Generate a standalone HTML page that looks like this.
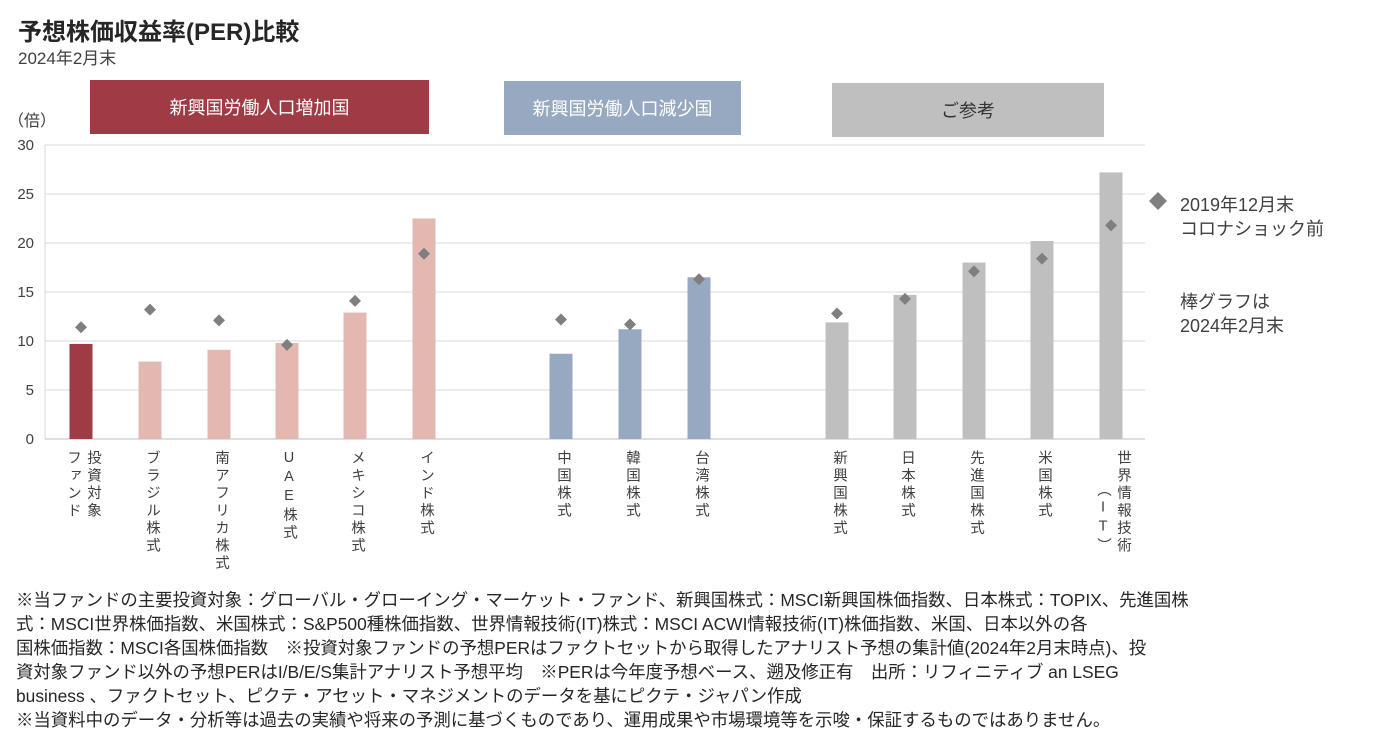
<!DOCTYPE html>
<html><head><meta charset="utf-8"><style>
body{margin:0;width:1375px;height:742px;background:#fff;font-family:"Liberation Sans","Noto Sans CJK JP",sans-serif;color:#404040;position:relative;overflow:hidden}
.a{position:absolute;white-space:nowrap}
.hdr{position:absolute;color:#fff;font-size:18px;display:flex;align-items:center;justify-content:center}
.fn{position:absolute;left:16px;font-size:17.4px;color:#262626;white-space:nowrap}
.vl{position:absolute;writing-mode:vertical-rl;text-orientation:upright;font-size:14.5px;line-height:20px;letter-spacing:3px;color:#404040}
</style></head><body>
<div class="a" style="left:18px;top:12px;font-size:24px;font-weight:bold;color:#262626">予想株価収益率(PER)比較</div>
<div class="a" style="left:18px;top:44px;font-size:17px">2024年2月末</div>
<div class="hdr" style="left:90px;top:80px;width:339px;height:54px;background:#9e3b45">新興国労働人口増加国</div>
<div class="hdr" style="left:504px;top:81px;width:237px;height:54px;background:#97a9c0">新興国労働人口減少国</div>
<div class="hdr" style="left:832px;top:83px;width:272px;height:54px;background:#bfbfbf;color:#333">ご参考</div>
<div class="a" style="left:8px;top:107px;font-size:16px">（倍）</div>
<svg id="chart" width="1375" height="742" style="position:absolute;left:0;top:0"></svg>
<div class="a" style="left:1180px;top:193px;font-size:18px;line-height:24px">2019年12月末<br>コロナショック前</div>
<div class="a" style="left:1180px;top:290px;font-size:18px;line-height:24px">棒グラフは<br>2024年2月末</div>
<div id="labels"></div>
<div class="fn" style="top:587px">※当ファンドの主要投資対象：グローバル・グローイング・マーケット・ファンド、新興国株式：MSCI新興国株価指数、日本株式：TOPIX、先進国株</div>
<div class="fn" style="top:611px">式：MSCI世界株価指数、米国株式：S&amp;P500種株価指数、世界情報技術(IT)株式：MSCI  ACWI情報技術(IT)株価指数、米国、日本以外の各</div>
<div class="fn" style="top:635px">国株価指数：MSCI各国株価指数　※投資対象ファンドの予想PERはファクトセットから取得したアナリスト予想の集計値(2024年2月末時点)、投</div>
<div class="fn" style="top:659px">資対象ファンド以外の予想PERはI/B/E/S集計アナリスト予想平均　※PERは今年度予想ベース、遡及修正有　出所：リフィニティブ an LSEG</div>
<div class="fn" style="top:683px">business 、ファクトセット、ピクテ・アセット・マネジメントのデータを基にピクテ・ジャパン作成</div>
<div class="fn" style="top:707px">※当資料中のデータ・分析等は過去の実績や将来の予測に基づくものであり、運用成果や市場環境等を示唆・保証するものではありません。</div>
<script>
const categories=["投資対象|ファンド","ブラジル株式","南アフリカ株式","UAE株式","メキシコ株式","インド株式","中国株式","韓国株式","台湾株式","新興国株式","日本株式","先進国株式","米国株式","世界情報技術|（IT）"];
const perFeb2024=[9.7,7.9,9.1,9.8,12.9,22.5,8.7,11.2,16.5,11.9,14.7,18.0,20.2,27.2];
const perDec2019=[11.4,13.2,12.1,9.6,14.1,18.9,12.2,11.7,16.3,12.8,14.3,17.1,18.4,21.8];
const groups=[0,1,1,1,1,1,2,2,2,3,3,3,3,3];
const yTicks=[0,5,10,15,20,25,30];
const colors=["#9e3b45","#e2b8b0","#97a9c0","#bfbfbf"];
const centers=[81,150,219,287,355,424,561,630,699,837,905,974,1042,1111];
const svg=document.getElementById('chart');const NS="http://www.w3.org/2000/svg";
const y=v=>439-v*(294/30);
function mk(t,a){const e=document.createElementNS(NS,t);for(const k in a)e.setAttribute(k,a[k]);svg.appendChild(e);return e;}
yTicks.forEach(t=>{
 const l=mk('line',{x1:45,x2:1145,y1:y(t),y2:y(t),stroke:t===0?'#bfbfbf':'#d9d9d9','stroke-width':1});
 
 
 const tx=mk('text',{x:34,y:y(t)+5,'text-anchor':'end','font-size':15,fill:'#404040','font-family':'Liberation Sans, sans-serif'});
 tx.textContent=t;
 
 
});
mk('line',{x1:45,x2:45,y1:145,y2:439,stroke:'#d9d9d9'});
const lab=document.getElementById('labels');
categories.forEach((c,i)=>{
 const cx=centers[i];
 const r=mk('rect',{x:cx-11.5,y:y(perFeb2024[i]),width:23,height:439-y(perFeb2024[i]),fill:colors[groups[i]]});
 
 
 const d=y(perDec2019[i]);
 const p=mk('polygon',{points:`${cx},${d-6} ${cx+6},${d} ${cx},${d+6} ${cx-6},${d}`,fill:'#7f7f7f'});
 
 
 const parts=c.split('|');
 parts.forEach((s,j)=>{
  const dv=document.createElement('div');dv.className='vl';
  const off=parts.length>1?(j===0?2:-18):-8;
  dv.style.left=(cx+off)+'px';dv.style.top=(j===1&&i===13?482:450)+'px';
  dv.textContent=s;
  
  
  lab.appendChild(dv);
 });
});
const ld=mk('polygon',{points:'1158,192 1167,201 1158,210 1149,201',fill:'#7f7f7f'});


</script>
</body></html>
